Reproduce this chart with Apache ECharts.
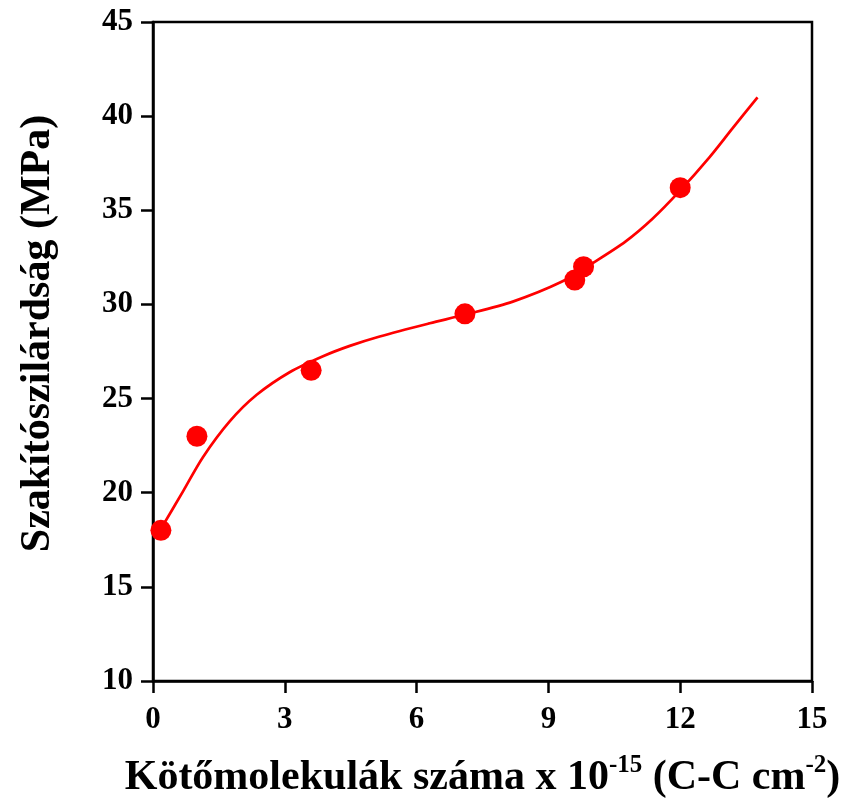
<!DOCTYPE html>
<html>
<head>
<meta charset="utf-8">
<script src="https://cdn.jsdelivr.net/npm/echarts@6/dist/echarts.min.js"></script>
<style>
html,body{margin:0;padding:0;background:#fff;}
#chart{width:850px;height:799px;}
</style>
</head>
<body>
<div id="chart"></div>
<script>
// Measured data points (x: bonding molecules ×10^-15, y: tensile strength MPa)
const pointX = [0.18, 1.0, 3.6, 7.1, 9.6, 9.8, 12.0];
const pointY = [18.0, 23.0, 26.5, 29.5, 31.3, 32.0, 36.2];

// Fitted curve
const curveX = [0.16, 0.69, 1.14, 1.75, 2.36, 3.11, 3.87, 4.48, 5.16, 6.30, 7.09, 8.19, 9.30, 10.01, 10.76, 11.37, 11.98, 12.66, 13.19, 13.76];
const curveY = [18.0, 20.1, 21.9, 23.8, 25.2, 26.4, 27.25, 27.8, 28.3, 29.0, 29.45, 30.15, 31.2, 32.2, 33.35, 34.55, 36.0, 37.8, 39.35, 41.0];

// Axis ticks
const xTicks = [0, 3, 6, 9, 12, 15];
const yTicks = [10, 15, 20, 25, 30, 35, 40, 45];

const FONT = '"Liberation Serif", "Times New Roman", serif';

const chart = echarts.init(document.getElementById('chart'), null, {renderer: 'canvas'});

chart.setOption({
  animation: false,
  backgroundColor: '#fff',
  grid: {left: 153, right: 38, top: 22, bottom: 118, containLabel: false, outerBoundsMode: 'none', show: true, borderColor: '#000', borderWidth: 2.5, backgroundColor: 'transparent'},
  xAxis: {
    type: 'value',
    position: 'bottom',
    min: xTicks[0], max: xTicks[xTicks.length - 1], interval: 3,
    axisLine: {show: true, onZero: false, lineStyle: {color: '#000', width: 2.5}},
    axisTick: {show: true, inside: false, length: 12, lineStyle: {color: '#000', width: 2.5}},
    splitLine: {show: false},
    axisLabel: {show: true, color: '#000', fontFamily: FONT, fontWeight: 'bold', fontSize: 31, margin: 23},
    name: '{t|Kötőmolekulák száma x 10}{s|-15}{t| (C-C cm}{s|-2}{t|)}',
    nameLocation: 'middle',
    nameGap: 72,
    nameTextStyle: {
      rich: {
        t: {fontFamily: FONT, fontWeight: 'bold', fontSize: 42, color: '#000', verticalAlign: 'bottom', lineHeight: 46},
        s: {fontFamily: FONT, fontWeight: 'bold', fontSize: 25, color: '#000', verticalAlign: 'top', lineHeight: 46, padding: [0, 0, 20, 0]}
      }
    }
  },
  yAxis: {
    type: 'value',
    position: 'left',
    min: yTicks[0], max: yTicks[yTicks.length - 1], interval: 5,
    axisLine: {show: true, onZero: false, lineStyle: {color: '#000', width: 2.5}},
    axisTick: {show: true, inside: false, length: 12, lineStyle: {color: '#000', width: 2.5}},
    splitLine: {show: false},
    axisLabel: {show: true, color: '#000', fontFamily: FONT, fontWeight: 'bold', fontSize: 31, margin: 20},
    name: 'Szakítószilárdság (MPa)',
    nameLocation: 'middle',
    nameGap: 94,
    nameTextStyle: {fontFamily: FONT, fontWeight: 'bold', fontSize: 42, color: '#000', padding: [0, 0, 0, 36]}
  },
  series: [
    {
      type: 'line',
      data: curveX.map((x, i) => [x, curveY[i]]),
      smooth: 0.3,
      showSymbol: false,
      lineStyle: {color: '#ff0000', width: 2.7},
      z: 2
    },
    {
      type: 'scatter',
      data: pointX.map((x, i) => [x, pointY[i]]),
      symbol: 'circle',
      symbolSize: 21,
      itemStyle: {color: '#ff0000', opacity: 1},
      z: 3
    }
  ]
});
</script>
</body>
</html>
